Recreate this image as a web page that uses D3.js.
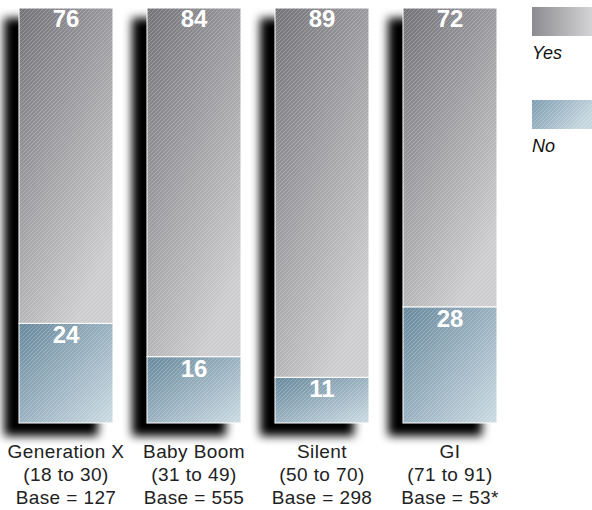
<!DOCTYPE html>
<html>
<head>
<meta charset="utf-8">
<script src="https://cdn.jsdelivr.net/npm/d3@7/dist/d3.min.js"></script>
<style>
  html, body { margin: 0; padding: 0; background: #fff; }
  svg { display: block; font-family: "Liberation Sans", Arial, Helvetica, sans-serif; }
</style>
</head>
<body>
<svg id="chart" width="592" height="510"></svg>
<script>
// Generations and their share answering Yes / No (percent)
const categories = ["Generation X", "Baby Boom", "Silent", "GI"];
const ageRanges = ["(18 to 30)", "(31 to 49)", "(50 to 70)", "(71 to 91)"];
const bases = ["Base = 127", "Base = 555", "Base = 298", "Base = 53*"];
const yesValues = [76, 84, 89, 72];
const noValues = [24, 16, 11, 28];
const seriesNames = ["Yes", "No"];

const svg = d3.select("#chart");
const defs = svg.append("defs");

// Gradients for the two series
const gYes = defs.append("linearGradient").attr("id", "gYes")
  .attr("x1", 0).attr("y1", 0).attr("x2", 0.6).attr("y2", 1);
gYes.append("stop").attr("offset", "0%").attr("stop-color", "#737378");
gYes.append("stop").attr("offset", "100%").attr("stop-color", "#cdcdcf");

const gNo = defs.append("linearGradient").attr("id", "gNo")
  .attr("x1", 0).attr("y1", 0).attr("x2", 1).attr("y2", 1);
gNo.append("stop").attr("offset", "0%").attr("stop-color", "#67889c");
gNo.append("stop").attr("offset", "100%").attr("stop-color", "#ccdbe3");

const gYesKey = defs.append("linearGradient").attr("id", "gYesKey")
  .attr("x1", 0).attr("y1", 0).attr("x2", 1).attr("y2", 0);
gYesKey.append("stop").attr("offset", "0%").attr("stop-color", "#8c8c90");
gYesKey.append("stop").attr("offset", "100%").attr("stop-color", "#d6d6d8");

const gNoKey = defs.append("linearGradient").attr("id", "gNoKey")
  .attr("x1", 0).attr("y1", 0).attr("x2", 1).attr("y2", 0.4);
gNoKey.append("stop").attr("offset", "0%").attr("stop-color", "#7d9db0");
gNoKey.append("stop").attr("offset", "100%").attr("stop-color", "#c6d6df");

// Fine diagonal hatch laid over the fills
const hatch = defs.append("pattern").attr("id", "hatch")
  .attr("patternUnits", "userSpaceOnUse").attr("width", 4).attr("height", 4);
hatch.append("path").attr("d", "M-1,1 l2,-2 M0,4 l4,-4 M3,5 l2,-2")
  .attr("stroke", "rgba(255,255,255,0.22)").attr("stroke-width", 1);

// Soft drop shadow
const blur = defs.append("filter").attr("id", "blur")
  .attr("x", "-50%").attr("y", "-20%").attr("width", "200%").attr("height", "140%");
blur.append("feGaussianBlur").attr("stdDeviation", 5);

const x = d3.scaleBand().domain(categories).range([19, 497]).paddingInner(34 / 128).paddingOuter(0);
const y = d3.scaleLinear().domain([0, 100]).range([423, 8]);

const rows = categories.map((c, i) => ({ cat: c, yes: yesValues[i], no: noValues[i], i }));

// Shadows
svg.append("g").selectAll("rect").data(rows).join("rect")
  .attr("x", d => x(d.cat) - 15)
  .attr("y", d => y(d.yes + d.no) + 10)
  .attr("width", x.bandwidth())
  .attr("height", d => y(0) - y(d.yes + d.no) + 3)
  .attr("fill", "#000")
  .attr("filter", "url(#blur)");

const bars = svg.append("g").selectAll("g").data(rows).join("g");

function segment(g, fill, top, bottom) {
  g.append("rect")
    .attr("x", d => x(d.cat)).attr("y", top)
    .attr("width", x.bandwidth()).attr("height", d => bottom(d) - top(d))
    .attr("fill", fill);
  g.append("rect")
    .attr("x", d => x(d.cat)).attr("y", top)
    .attr("width", x.bandwidth()).attr("height", d => bottom(d) - top(d))
    .attr("fill", "url(#hatch)")
    .attr("stroke", "rgba(255,255,255,0.85)").attr("stroke-width", 1.2);
}

// No segment at the bottom, Yes stacked above it
segment(bars, "url(#gNo)", d => y(d.no), d => y(0));
segment(bars, "url(#gYes)", d => y(d.no + d.yes), d => y(d.no));

// Value labels at the top of each segment
bars.append("text")
  .attr("x", d => x(d.cat) + x.bandwidth() / 2)
  .attr("y", d => y(d.no + d.yes) + 19)
  .attr("text-anchor", "middle").attr("fill", "#fff")
  .attr("font-weight", "bold").attr("font-size", 24)
  .text(d => d.yes);
bars.append("text")
  .attr("x", d => x(d.cat) + x.bandwidth() / 2)
  .attr("y", d => y(d.no) + 20)
  .attr("text-anchor", "middle").attr("fill", "#fff")
  .attr("font-weight", "bold").attr("font-size", 24)
  .text(d => d.no);

// Category labels beneath the bars
const labels = svg.append("g").selectAll("text").data(rows).join("text")
  .attr("text-anchor", "middle").attr("fill", "#222").attr("font-size", 19)
  .attr("letter-spacing", 0.4)
  .attr("x", d => x(d.cat) + x.bandwidth() / 2);
labels.append("tspan").attr("x", d => x(d.cat) + x.bandwidth() / 2).attr("y", 458).text(d => d.cat);
labels.append("tspan").attr("x", d => x(d.cat) + x.bandwidth() / 2).attr("y", 481).text(d => ageRanges[d.i]);
labels.append("tspan").attr("x", d => x(d.cat) + x.bandwidth() / 2).attr("y", 504).text(d => bases[d.i]);

// Legend
const legend = svg.append("g").selectAll("g").data(seriesNames).join("g")
  .attr("transform", (d, i) => `translate(532, ${7 + i * 93})`);
legend.append("rect").attr("width", 62).attr("height", 29)
  .attr("fill", (d, i) => i === 0 ? "url(#gYesKey)" : "url(#gNoKey)");
legend.filter((d, i) => i === 1).append("rect").attr("width", 62).attr("height", 29)
  .attr("fill", "url(#hatch)");
legend.append("text").attr("x", 0).attr("y", 52)
  .attr("font-style", "italic").attr("font-size", 18).attr("fill", "#111")
  .text(d => d);
</script>
</body>
</html>
